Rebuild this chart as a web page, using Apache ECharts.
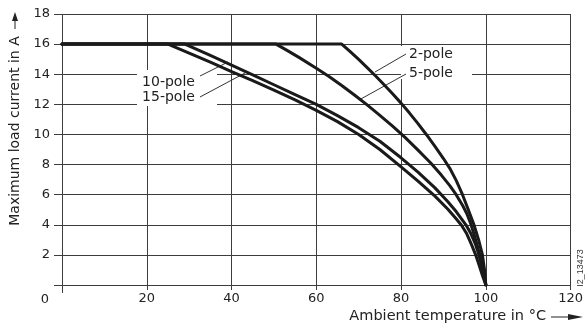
<!DOCTYPE html>
<html><head><meta charset="utf-8">
<script src="https://cdn.jsdelivr.net/npm/echarts@6/dist/echarts.min.js"></script>
<style>html,body{margin:0;padding:0;background:#fff}#c{width:586px;height:325px}</style>
</head><body><div id="c"></div>
<script>
// ---- data (x = ambient temperature °C, y = max load current A)
const seriesNames = ['2-pole', '5-pole', '10-pole', '15-pole'];
const pole2 = [[0,16],[66,16],[68,15.5],[70,14.98],[72,14.44],[74,13.88],[76,13.3],[78,12.7],[80,12.08],[82,11.42],[84,10.72],[86,9.98],[88,9.2],[90,8.4],[91.5,7.75],[93,6.95],[94.5,6.0],[95.8,5.05],[97.2,4.0],[98.3,3.0],[99.2,2.0],[99.7,1.0],[100,0]];
const pole5 = [[0,16],[50.5,16],[53,15.6],[56,15.1],[60,14.4],[63,13.85],[66,13.25],[69,12.62],[72,11.96],[75,11.27],[78,10.55],[81,9.79],[84,8.96],[87,8.1],[89.5,7.3],[91.5,6.6],[93,6.0],[94.5,5.3],[95.5,4.75],[96.4,4.1],[97.3,3.3],[98.1,2.5],[98.8,1.75],[99.4,0.9],[100,0]];
const pole10 = [[0,16],[29,16],[35,15.25],[40,14.6],[45,13.95],[50,13.3],[55,12.65],[60,12.0],[65,11.25],[70,10.45],[75,9.55],[80,8.45],[84,7.5],[88,6.45],[91,5.55],[93,4.88],[95.3,4.0],[96.5,3.4],[97.5,2.75],[98.3,2.05],[99,1.3],[99.6,0.6],[100,0]];
const pole15 = [[0,16],[25,16],[30,15.4],[35,14.8],[40,14.18],[45,13.57],[50,12.95],[55,12.3],[60,11.6],[65,10.85],[70,10.0],[75,9.0],[80,7.85],[84,6.9],[88,5.9],[91,5.05],[93,4.4],[94.3,3.95],[95.5,3.4],[96.6,2.7],[97.6,2.0],[98.5,1.25],[99.3,0.55],[100,0]];
const xMin = 0, xMax = 120, xStep = 20;
const yMin = 0, yMax = 18, yStep = 2;
const xTitle = 'Ambient temperature in °C';
const yTitle = 'Maximum load current in A';
const cornerLabel = '0';
const figureId = 'I2_13473';

const FONT = 'DejaVu Sans';
const INK = '#1a1a1a';
const GRID = '#3c3c3c';

const chart = echarts.init(document.getElementById('c'), null, {renderer: 'canvas'});
const allData = [pole2, pole5, pole10, pole15];

const option = {
  animation: false,
  backgroundColor: '#fff',
  grid: {left: 62, right: 14, top: 14, bottom: 40, containLabel: false},
  xAxis: {
    type: 'value', min: xMin, max: xMax, interval: xStep,
    axisLine: {show: false},
    axisTick: {show: true, inside: false, length: 5, lineStyle: {color: GRID, width: 1}},
    axisLabel: {show: true, fontFamily: FONT, fontSize: 13, color: '#222', margin: 7,
      showMinLabel: true, showMaxLabel: true,
      formatter: v => v === 0 ? '' : String(v)},
    splitLine: {show: true, lineStyle: {color: GRID, width: 1}}
  },
  yAxis: {
    type: 'value', min: yMin, max: yMax, interval: yStep,
    axisLine: {show: false},
    axisTick: {show: true, inside: false, length: 8, lineStyle: {color: GRID, width: 1}},
    axisLabel: {show: true, fontFamily: FONT, fontSize: 13, color: '#222', margin: 12,
      showMinLabel: true, showMaxLabel: true,
      formatter: v => v === 0 ? '' : String(v)},
    splitLine: {show: true, lineStyle: {color: GRID, width: 1}}
  },
  series: allData.map((d, i) => ({
    name: seriesNames[i], type: 'line', data: d, showSymbol: false, symbol: 'none',
    smooth: false, z: 5,
    lineStyle: {color: INK, width: 3, join: 'round', cap: 'round'}
  })),
  graphic: {elements: [
    // white label backgrounds
    {type: 'rect', z: 1, shape: {x: 137, y: 70, width: 80, height: 36}, style: {fill: '#fff'}},
    {type: 'rect', z: 1, shape: {x: 401, y: 46, width: 71, height: 33}, style: {fill: '#fff'}},
    // pole labels
    {type: 'text', z: 2, x: 168.5, y: 82, style: {text: seriesNames[2], font: '14px "DejaVu Sans"', fill: '#222', textAlign: 'center', textVerticalAlign: 'middle'}},
    {type: 'text', z: 2, x: 168.5, y: 97.5, style: {text: seriesNames[3], font: '14px "DejaVu Sans"', fill: '#222', textAlign: 'center', textVerticalAlign: 'middle'}},
    {type: 'text', z: 2, x: 409, y: 54, style: {text: seriesNames[0], font: '14px "DejaVu Sans"', fill: '#222', textAlign: 'left', textVerticalAlign: 'middle'}},
    {type: 'text', z: 2, x: 409, y: 73.5, style: {text: seriesNames[1], font: '14px "DejaVu Sans"', fill: '#222', textAlign: 'left', textVerticalAlign: 'middle'}},
    // leader lines
    {type: 'line', z: 2, shape: {x1: 200, y1: 76, x2: 228, y2: 62}, style: {stroke: '#333', lineWidth: 1}},
    {type: 'line', z: 2, shape: {x1: 200, y1: 97, x2: 245, y2: 73}, style: {stroke: '#333', lineWidth: 1}},
    {type: 'line', z: 2, shape: {x1: 406, y1: 54, x2: 375, y2: 72}, style: {stroke: '#333', lineWidth: 1}},
    {type: 'line', z: 2, shape: {x1: 406, y1: 74, x2: 359, y2: 100}, style: {stroke: '#333', lineWidth: 1}},
    // corner zero
    {type: 'text', z: 2, x: 45, y: 300, style: {text: cornerLabel, font: '13px "DejaVu Sans"', fill: '#222', textAlign: 'center', textVerticalAlign: 'middle'}},
    // x axis title + arrow
    {type: 'text', z: 2, x: 546, y: 316, style: {text: xTitle, font: '14.5px "DejaVu Sans"', fill: '#222', textAlign: 'right', textVerticalAlign: 'middle'}},
    {type: 'line', z: 2, shape: {x1: 551, y1: 317, x2: 575, y2: 317}, style: {stroke: '#222', lineWidth: 1}},
    {type: 'polygon', z: 2, shape: {points: [[568, 314], [583, 317], [568, 320]]}, style: {fill: '#222'}},
    // y axis title + arrow
    {type: 'text', z: 2, x: 15, y: 131, rotation: Math.PI / 2, style: {text: yTitle, font: '14px "DejaVu Sans"', fill: '#222', textAlign: 'center', textVerticalAlign: 'middle'}},
    {type: 'line', z: 2, shape: {x1: 15, y1: 29, x2: 15, y2: 18}, style: {stroke: '#222', lineWidth: 1}},
    {type: 'polygon', z: 2, shape: {points: [[12, 21], [15, 12], [18, 21]]}, style: {fill: '#222'}},
    // figure id
    {type: 'text', z: 2, x: 580.5, y: 268, rotation: Math.PI / 2, style: {text: figureId, font: '9px "Liberation Sans"', fill: '#333', textAlign: 'center', textVerticalAlign: 'middle'}},
    // y axis extension below origin
    {type: 'line', z: 2, shape: {x1: 62.5, y1: 285, x2: 62.5, y2: 293}, style: {stroke: GRID, lineWidth: 1}}
  ]}
};
chart.setOption(option);
</script>
</body></html>
